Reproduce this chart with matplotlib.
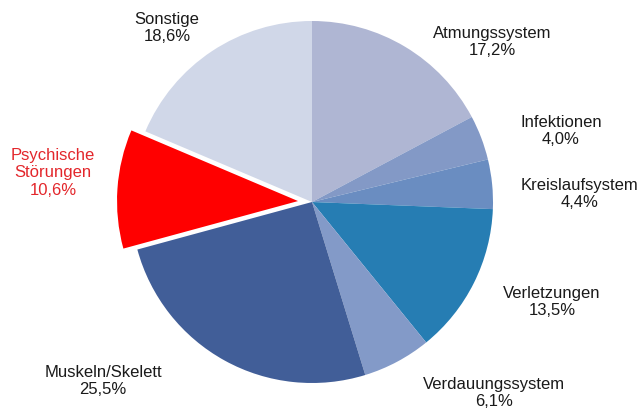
import matplotlib
matplotlib.use("Agg")
import matplotlib.pyplot as plt

categories = ["Atmungssystem", "Infektionen", "Kreislaufsystem", "Verletzungen",
              "Verdauungssystem", "Muskeln/Skelett", "Psychische\nStörungen", "Sonstige"]
values = [17.2, 4.0, 4.4, 13.5, 6.1, 25.5, 10.6, 18.6]
value_labels = ["17,2%", "4,0%", "4,4%", "13,5%", "6,1%", "25,5%", "10,6%", "18,6%"]

colors = ["#AFB6D3", "#8399C6", "#6A8DC1", "#267DB3", "#839AC8", "#415E98", "#FF0000", "#D0D7E8"]
explode = [0, 0, 0, 0, 0, 0, 14, 0]  # offset in pixels (pie uses data units)
# label centres in pixel coordinates (x from left, y from top)
label_pos = [(492, 42), (561, 131), (580, 194), (552, 302), (494, 393), (103, 381), (53, 173), (167, 28)]
label_colors = ["#1a1a1a"] * 6 + ["#E3262B", "#1a1a1a"]

W, H = 643, 410
fig = plt.figure(figsize=(W / 100, H / 100), dpi=100)
ax = fig.add_axes([0, 0, 1, 1])

ax.pie(values, colors=colors, explode=explode, startangle=90, counterclock=False,
       center=(312, H - 203), radius=181, frame=True,
       wedgeprops=dict(linewidth=0))
ax.set_xlim(0, W)
ax.set_ylim(0, H)
ax.set_aspect("equal")
ax.axis("off")

font = ["Liberation Sans", "DejaVu Sans"]
for cat, vl, (x, y), c in zip(categories, value_labels, label_pos, label_colors):
    ax.text(x, H - y, cat + "\n" + vl, ha="center", va="center", fontsize=12,
            color=c, family=font, linespacing=1.22)

fig.savefig("out.png", dpi=100)
